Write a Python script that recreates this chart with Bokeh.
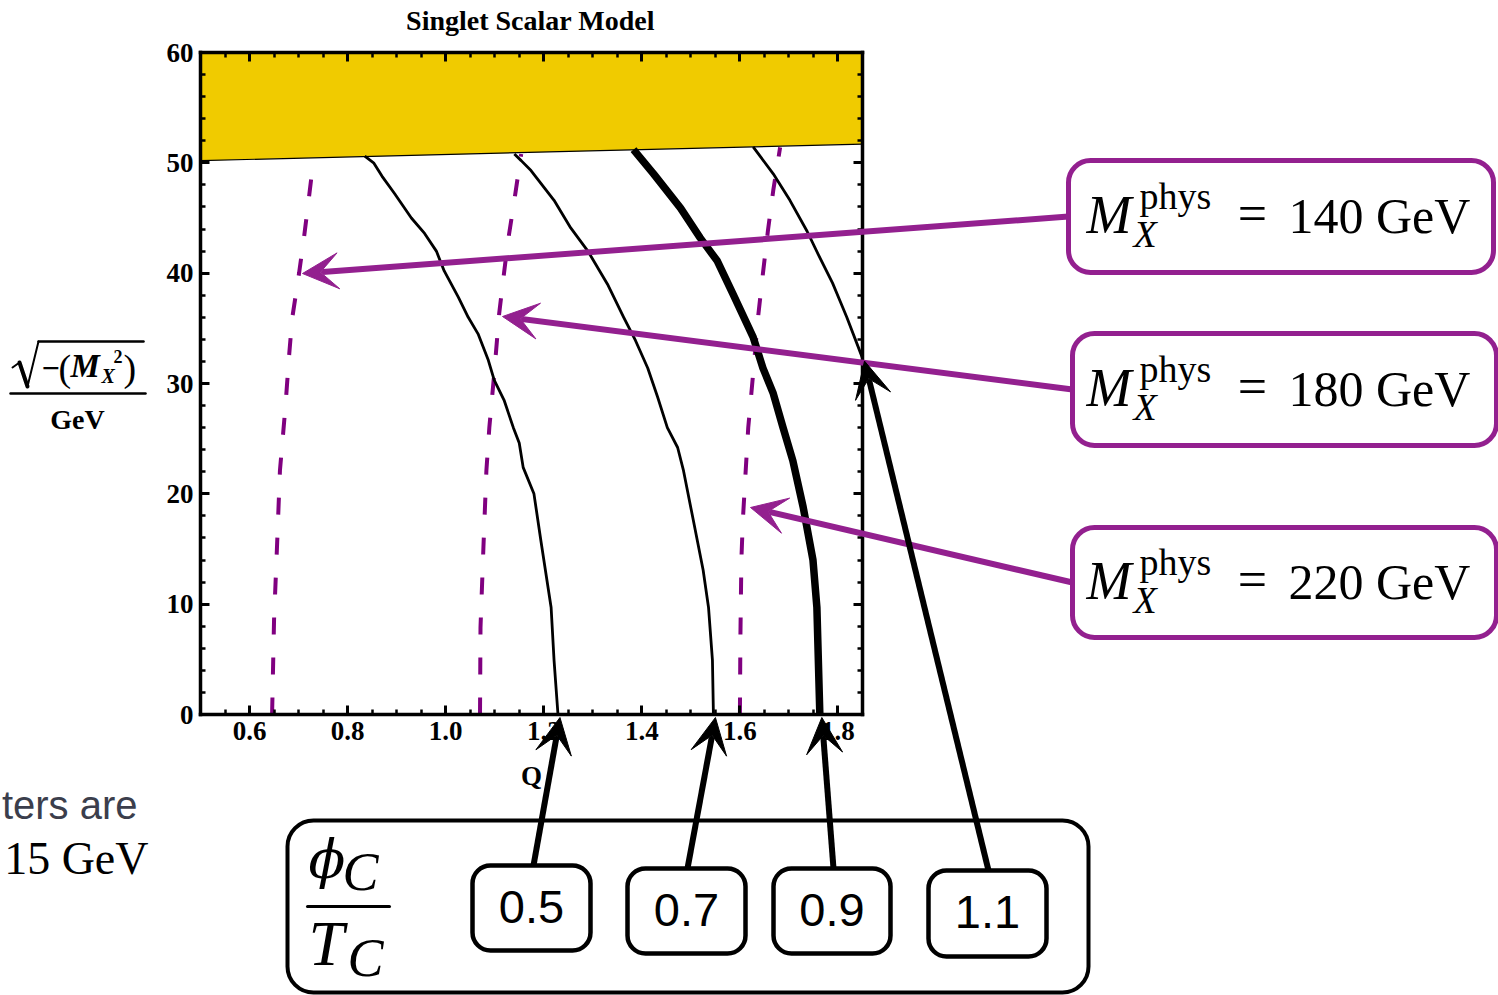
from bokeh.plotting import figure
from bokeh.models import (Range1d, FixedTicker, NumeralTickFormatter, LinearAxis, Label,
                          Arrow, VeeHead, BoxAnnotation, CustomJSTickFormatter)
from bokeh.embed import file_html
from bokeh.resources import INLINE

# ---------------- data ----------------
q_range = [0.5, 1.85]
m_range = [0.0, 60.0]
q_ticks = [0.6, 0.8, 1.0, 1.2, 1.4, 1.6, 1.8]
q_minor = [0.5, 0.55, 0.6, 0.65, 0.7, 0.75, 0.8, 0.85, 0.9, 0.95, 1.0, 1.05, 1.1, 1.15,
           1.2, 1.25, 1.3, 1.35, 1.4, 1.45, 1.5, 1.55, 1.6, 1.65, 1.7, 1.75, 1.8, 1.85]
m_ticks = [0, 10, 20, 30, 40, 50, 60]
m_minor = [0, 2, 4, 6, 8, 10, 12, 14, 16, 18, 20, 22, 24, 26, 28, 30, 32, 34, 36, 38, 40,
           42, 44, 46, 48, 50, 52, 54, 56, 58, 60]

# lower edge of the excluded (shaded) band
excl_q = [0.5, 1.85]
excl_m = [50.2, 51.7]

# contours of phi_C / T_C
phi_ratios = ["0.5", "0.7", "0.9", "1.1"]
c05_q = [0.835, 0.853, 0.870, 0.896, 0.930, 0.957, 0.981, 0.997, 1.026, 1.046, 1.066,
         1.087, 1.099, 1.119, 1.138, 1.150, 1.158, 1.180, 1.194, 1.215, 1.221, 1.229]
c05_m = [50.6, 50.0, 48.8, 47.2, 45.0, 43.6, 42.0, 40.2, 37.8, 36.0, 34.5,
         32.1, 30.3, 28.5, 26.0, 24.6, 22.4, 20.0, 15.8, 9.7, 4.9, 0.0]
c07_q = [1.140, 1.154, 1.174, 1.221, 1.255, 1.290, 1.330, 1.363, 1.387, 1.412, 1.432,
         1.452, 1.473, 1.485, 1.505, 1.525, 1.536, 1.544, 1.546]
c07_m = [50.8, 50.2, 49.3, 46.6, 44.1, 42.0, 39.0, 36.0, 33.9, 31.4, 28.8,
         26.0, 24.2, 22.1, 17.6, 13.1, 9.7, 4.9, 0.0]
c09_q = [1.383, 1.424, 1.479, 1.519, 1.554, 1.586, 1.627, 1.647, 1.668, 1.688, 1.708,
         1.729, 1.749, 1.757, 1.763]
c09_m = [51.2, 49.0, 45.9, 43.2, 41.1, 38.1, 34.2, 31.4, 29.1, 26.0, 23.0,
         18.8, 14.0, 9.7, 0.0]
c11_q = [1.627, 1.668, 1.702, 1.737, 1.763, 1.789, 1.804, 1.818, 1.850]
c11_m = [51.45, 49.0, 46.6, 43.8, 41.4, 39.1, 37.5, 36.0, 32.3]

# contours of the physical singlet mass (GeV), listed from the bottom up
mass_values = ["140", "180", "220"]
m140_q = [0.646, 0.650, 0.656, 0.662, 0.673, 0.681, 0.687, 0.701, 0.711, 0.721, 0.731]
m140_m = [0.0, 8.6, 15.2, 22.1, 27.8, 32.7, 35.9, 40.0, 43.2, 46.8, 50.5]
m180_q = [1.070, 1.071, 1.077, 1.083, 1.089, 1.099, 1.109, 1.117, 1.127, 1.140, 1.154]
m180_m = [0.0, 7.9, 15.2, 22.1, 26.0, 30.9, 36.3, 39.3, 42.9, 46.6, 50.8]
m220_q = [1.600, 1.601, 1.603, 1.606, 1.611, 1.617, 1.627, 1.637, 1.647, 1.657, 1.668, 1.682]
m220_m = [0.0, 7.0, 14.0, 17.6, 21.5, 26.0, 30.9, 36.0, 40.0, 43.8, 47.5, 51.4]

# ---------------- page geometry ----------------
W, H = 1498, 995
FL, FR, FT, FB = 200, 862, 52, 714   # edges of the plotting box in page pixels

q_per_px = (q_range[1] - q_range[0]) / (FR - FL)
m_per_px = (m_range[1] - m_range[0]) / (FB - FT)


def px_of(q):
    return FL + (q - q_range[0]) / q_per_px


def py_of(m):
    return FB - (m - m_range[0]) / m_per_px


SERIF = "Liberation Serif"
SANS = "Liberation Sans"
GOLD = "#F0CB00"
DASH_PURPLE = "#800080"
ANN_PURPLE = "#93208F"

# The canvas works in page pixels (y downward) for the annotations; the
# physics data lives on the extra "q"/"m" ranges laid over the plotting box.
p = figure(width=W, height=H, x_range=Range1d(0, W), y_range=Range1d(H, 0),
           output_backend="svg", toolbar_location=None,
           x_axis_type=None, y_axis_type=None,
           min_border_left=0, min_border_right=0, min_border_top=0, min_border_bottom=0)
p.title.visible = False
p.outline_line_color = None
p.background_fill_color = "white"
p.border_fill_color = "white"
p.extra_x_ranges = {"q": Range1d(q_range[0] - FL * q_per_px, q_range[0] + (W - FL) * q_per_px)}
p.extra_y_ranges = {"m": Range1d(m_range[0] - (H - FB) * m_per_px, m_range[0] + FB * m_per_px)}


def frame_axis(ticker, loc, bounds):
    return LinearAxis(ticker=ticker, x_range_name="q", y_range_name="m",
                      fixed_location=loc, bounds=bounds,
                      axis_line_width=3.5, axis_line_color="black", axis_line_cap="square",
                      major_tick_line_width=3, major_tick_in=9, major_tick_out=0,
                      minor_tick_line_width=2.5, minor_tick_in=5, minor_tick_out=0,
                      major_label_text_font=SERIF, major_label_text_font_style="bold",
                      major_label_text_font_size="27px",
                      major_label_text_color="black", major_label_standoff=7)


xt = FixedTicker(ticks=q_ticks, minor_ticks=q_minor)
yt = FixedTicker(ticks=m_ticks, minor_ticks=m_minor)
blank = CustomJSTickFormatter(code="return ''")

xb = frame_axis(xt, m_range[0], tuple(q_range))
xb.formatter = NumeralTickFormatter(format="0.0")
xb.axis_label = "Q"
xb.axis_label_text_font = SERIF
xb.axis_label_text_font_style = "bold"
xb.axis_label_text_font_size = "27px"
xb.axis_label_text_color = "black"
xb.axis_label_standoff = 18
yl = frame_axis(yt, q_range[0], tuple(m_range))
yl.formatter = NumeralTickFormatter(format="0")
xa = frame_axis(xt, m_range[1], tuple(q_range))
xa.formatter = blank
yr = frame_axis(yt, q_range[1], tuple(m_range))
yr.formatter = blank
p.add_layout(xb, "below")
p.add_layout(yl, "left")
p.add_layout(xa, "above")
p.add_layout(yr, "right")

# shaded band at the top
p.patch(x=[excl_q[0], excl_q[1], q_range[1], q_range[0]],
        y=[excl_m[0], excl_m[1], m_range[1], m_range[1]],
        fill_color=GOLD, line_color=None, x_range_name="q", y_range_name="m")
p.line(excl_q, excl_m, line_color="black", line_width=1.2, x_range_name="q", y_range_name="m")

# dashed mass contours
for mq, mm in [(m140_q, m140_m), (m180_q, m180_m), (m220_q, m220_m)]:
    p.line(mq, mm, line_color=DASH_PURPLE, line_width=4, line_dash="17 23",
           x_range_name="q", y_range_name="m")

# phi_C/T_C contours (0.9 drawn heavy)
contours = [(c05_q, c05_m, 2.8), (c07_q, c07_m, 2.8), (c09_q, c09_m, 7.5), (c11_q, c11_m, 2.8)]
for cq, cm, w in contours:
    p.line(cq, cm, line_color="black", line_width=w, line_join="round",
           x_range_name="q", y_range_name="m")


def label(x, y, text, size, font=SERIF, style="normal", color="black", align="left"):
    # y is the wanted baseline; shift for how the label anchors its text
    p.add_layout(Label(x=x, y=y - 0.35 * size, text=text, text_font=font,
                       text_font_size=f"{size}px", text_font_style=style,
                       text_color=color, text_align=align, text_baseline="alphabetic"))


def segment(x0, y0, x1, y1, color="black", width=2.5):
    p.add_layout(Arrow(x_start=x0, y_start=y0, x_end=x1, y_end=y1,
                       start=None, end=None, line_color=color, line_width=width,
                       line_cap="round"))


def rbox(l, t, r, b, color, width, radius):
    p.add_layout(BoxAnnotation(left=l, right=r, top=t, bottom=b,
                               fill_color="white", fill_alpha=1.0,
                               line_color=color, line_width=width, line_alpha=1.0,
                               border_radius=radius))


def arrow(x0, y0, x1, y1, color):
    p.add_layout(Arrow(x_start=x0, y_start=y0, x_end=x1, y_end=y1,
                       line_color=color, line_width=6,
                       end=VeeHead(size=36, fill_color=color, line_color=color,
                                   line_width=1)))


# title
label(530, 30, "Singlet Scalar Model", 28, style="bold", align="center")

# vertical axis label: sqrt(-(M_X^2)) / GeV
segment(12, 367, 19, 362, width=2)
segment(19, 362, 27, 386, width=4)
segment(27, 386, 38, 341, width=2)
segment(38, 341, 143, 341, width=2.5)
label(41, 379, "\u2212", 32, style="bold")
label(58, 381, "(", 38)
label(70, 377, "M", 33, style="bold italic")
label(101, 382, "X", 20, style="bold italic")
label(113, 362, "2", 18, style="bold")
label(123, 381, ")", 38)
segment(10, 393, 145, 393)
label(77, 429, "GeV", 28, style="bold", align="center")

# slide text running in from the left edge
label(137, 818, "ters are", 40, font=SANS, color="#3b3e4c", align="right")
label(148, 874, "15 GeV", 46, align="right")

# mass annotation boxes and arrows
mass_boxes = [(1068, 160, 1493, 272), (1072, 333, 1496, 445), (1072, 527, 1496, 637)]
mass_tips = [(302, 273), (502, 316), (750, 507)]
for val, (l, t, r, b), (tx, ty) in zip(mass_values, mass_boxes, mass_tips):
    cy = (t + b) / 2
    arrow(l, cy, tx, ty, ANN_PURPLE)
    rbox(l, t, r, b, ANN_PURPLE, 5, 22)
    base = cy + 17
    label(1086, base, "M", 54, style="italic")
    label(1139, base - 24, "phys", 38)
    label(1133, base + 14, "X", 38, style="italic")
    label(1252, base - 2, "=", 52, align="center")
    label(1288, base, f"{val} GeV", 50)

# phi_C/T_C legend box
rbox(287, 820, 1088, 992, "black", 4, 26)
label(308, 878, "\u03d5", 54, font="DejaVu Serif", style="italic")
label(342, 890, "C", 54, style="italic")
segment(307, 906, 389, 906, width=3)
label(308, 965, "T", 64, style="italic")
label(347, 976, "C", 54, style="italic")

ratio_boxes = [(472, 865, 590, 950), (627, 868, 745, 953), (773, 868, 890, 953),
               (928, 870, 1046, 956)]
ratio_tips = [(c05_q[-1], c05_m[-1]), (c07_q[-1], c07_m[-1]), (c09_q[-1], c09_m[-1]),
              (c11_q[-1], c11_m[-1])]
ratio_starts = [533, 687, 833, 988]
for txt, (l, t, r, b), (tq, tm), sx in zip(phi_ratios, ratio_boxes, ratio_tips, ratio_starts):
    arrow(sx, t, px_of(tq) + 2, py_of(tm) + 3, "black")
    rbox(l, t, r, b, "black", 4.5, 18)
    label((l + r) / 2, (t + b) / 2 + 15, txt, 47, font=SANS, align="center")

open("out.html", "w").write(file_html(p, INLINE))
